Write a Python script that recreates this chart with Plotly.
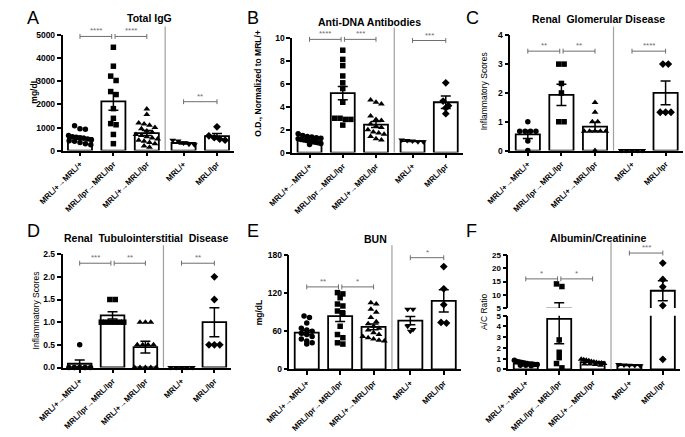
import numpy as np
import plotly.graph_objects as go

W, H = 685, 437

# ------------------------------------------------------------------ data
CATEGORIES = ["MRL/+→MRL/+", "MRL/lpr→MRL/lpr", "MRL/+→MRL/lpr", "MRL/+", "MRL/lpr"]

# A  Total IgG (mg/dL)
igg_points = [
    [1080, 950, 930, 650, 600, 580, 560, 540, 500, 470, 430, 400, 350, 300, 250],
    [4480, 3660, 3230, 3040, 2560, 2430, 1820, 1400, 1170, 1120, 700, 300],
    [1800, 1560, 1200, 1150, 1100, 1000, 950, 850, 800, 700, 650, 600, 550, 500, 450, 400, 350, 300, 200, 150],
    [450, 420, 330, 280, 250],
    [1030, 640, 560, 500, 450],
]
igg_mean = [550, 2130, 760, 330, 630]
igg_sem = [60, 380, 110, 40, 110]
igg_ticks = [0, 1000, 2000, 3000, 4000, 5000]
igg_sig = [(0, 1, 4950, "****"), (1, 2, 4950, "****"), (3, 4, 2120, "**")]

# B  Anti-DNA antibodies (O.D., normalized to MRL/+)
dna_points = [
    [1.65, 1.5, 1.4, 1.35, 1.3, 1.25, 1.2, 1.15, 1.1, 1.05, 1.0, 0.95, 0.9, 0.85, 0.8, 0.7],
    [8.95, 8.15, 7.6, 6.7, 6.1, 5.6, 4.4, 3.0, 3.0, 2.9, 2.9, 2.4],
    [4.6, 4.4, 4.25, 3.2, 2.9, 2.8, 2.5, 2.3, 2.2, 2.0, 1.8, 1.7, 1.6, 1.4, 1.2, 1.1],
    [1.1, 1.05, 1.0, 0.95, 0.95],
    [6.1, 4.5, 4.1, 3.9, 3.4],
]
dna_mean = [1.15, 5.2, 2.45, 1.0, 4.4]
dna_sem = [0.07, 0.58, 0.27, 0.03, 0.55]
dna_ticks = [0, 2, 4, 6, 8, 10]
dna_sig = [(0, 1, 9.9, "****"), (1, 2, 9.9, "***"), (3, 4, 9.8, "***")]

# C  Renal glomerular disease (inflammatory scores)
glom_points = [
    [1.0, 0.67, 0.67, 0.67, 0.67, 0.33, 0],
    [3, 3, 2.33, 2, 1, 1],
    [1.67, 1.33, 1.0, 1.0, 0.67, 0.67, 0.67, 0.67, 0.67, 0],
    [0, 0, 0, 0, 0],
    [3, 3, 1.33, 1.33, 1.33],
]
glom_mean = [0.56, 1.93, 0.83, 0, 2.0]
glom_sem = [0.14, 0.37, 0.15, 0, 0.41]
glom_ticks = [0, 1, 2, 3, 4]
glom_sig = [(0, 1, 3.45, "**"), (1, 2, 3.45, "**"), (3, 4, 3.45, "****")]

# D  Renal tubulointerstitial disease (inflammatory scores)
tub_points = [
    [0.5, 0, 0, 0, 0, 0],
    [1.5, 1.5, 1, 1, 1, 1, 1, 1],
    [1, 1, 1, 0.5, 0.5, 0.5, 0.5, 0, 0, 0, 0, 0],
    [0, 0, 0, 0, 0],
    [2, 1.5, 0.5, 0.5, 0.5],
]
tub_mean = [0.083, 1.15, 0.45, 0, 1.0]
tub_sem = [0.083, 0.08, 0.13, 0, 0.32]
tub_ticks = [0, 0.5, 1.0, 1.5, 2.0, 2.5]
tub_sig = [(0, 1, 2.3, "***"), (1, 2, 2.3, "**"), (3, 4, 2.3, "**")]

# E  BUN (mg/dL)
bun_points = [
    [84, 82, 73, 65, 62, 60, 57, 55, 52, 48, 45, 42, 40],
    [121, 119, 113, 103, 100, 92, 88, 68, 55, 50, 42, 40],
    [105, 103, 95, 90, 82, 75, 72, 68, 65, 62, 58, 55, 52, 50, 48, 46, 45],
    [95, 95, 68, 63, 60],
    [162, 127, 102, 74, 73],
]
bun_mean = [58, 84, 67, 77, 108]
bun_sem = [3.5, 8.5, 4.5, 6.5, 17.5]
bun_ticks = [0, 60, 120, 180]
bun_sig = [(0, 1, 130, "**"), (1, 2, 130, "*"), (3, 4, 176, "*")]

# F  Albumin/Creatinine (A/C ratio), broken axis 0-5 / 5-25
ac_points = [
    [0.85, 0.75, 0.7, 0.65, 0.6, 0.55, 0.5, 0.5, 0.45, 0.45, 0.4, 0.4, 0.35],
    [14.1, 13.1, 2.75, 1.6, 1.1, 0.55, 0.15],
    [0.95, 0.9, 0.85, 0.8, 0.75, 0.7, 0.65, 0.6, 0.6, 0.55, 0.5, 0.5, 0.45, 0.4],
    [0.45, 0.42, 0.4, 0.38, 0.35],
    [22.0, 15.8, 13.0, 5.9, 0.94],
]
ac_mean = [0.55, 4.7, 0.68, 0.4, 11.5]
ac_sem = [0.05, 2.3, 0.04, 0.03, 3.8]
ac_ticks_low = [0, 1, 2, 3, 4, 5]
ac_ticks_high = [5, 10, 15, 20, 25]
ac_sig = [(0, 1, 16, "*"), (1, 2, 16, "*"), (3, 4, 25.8, "***")]

# ------------------------------------------------------------------ style / layout constants
XPOS = [0, 1, 2, 3.1, 4.1]
SEP_X = 2.55
XRANGE = [-0.52, 4.62]
BAR_W = 0.72
SYMBOLS = ["circle", "square", "triangle-up", "triangle-down", "diamond"]
MSIZE = [5.5, 5.5, 6, 6, 6]
FONT = "Arial, 'Liberation Sans', Helvetica, sans-serif"
GREY = "#6e6e6e"
SEPC = "#a0a0a0"

fig = go.Figure()
layout_axes = {}
shapes = []
annotations = []


def aid(letter, n):
    return letter if n == 1 else f"{letter}{n}"


def xdom(x0, x1):
    return [x0 / W, x1 / W]


def ydom(yt, yb):
    return [1 - yb / H, 1 - yt / H]


def swarm(values, pxu_y, pxu_x, d=5.6, maxw=BAR_W * 0.95):
    """GraphPad-like row spread: points closer than d px in y share a row,
    rows are centred and squeezed to stay within the bar width."""
    values = np.asarray(values, dtype=float)
    order = np.argsort(values)[::-1]
    offs = np.zeros(len(values))
    rows, cur = [], []
    for k in order:
        py = values[k] * pxu_y
        if cur and (values[cur[0]] * pxu_y - py) >= d * 0.85:
            rows.append(cur)
            cur = []
        cur.append(k)
    if cur:
        rows.append(cur)
    for r in rows:
        n = len(r)
        step = d / pxu_x
        if n > 1:
            step = min(step, maxw / (n - 1))
        for m, k in enumerate(r):
            offs[k] = (m - (n - 1) / 2) * step
    return offs


def x_axis(box, yid):
    return dict(
        domain=xdom(box[0], box[1]), anchor=yid, range=XRANGE, autorange=False,
        tickmode="array", tickvals=XPOS, ticktext=CATEGORIES, tickangle=-45,
        ticks="outside", ticklen=4, tickwidth=1.5, tickcolor="black",
        showline=True, linecolor="black", linewidth=1.6, showgrid=False, zeroline=False,
        tickfont=dict(family=FONT, size=8, color="black", weight="bold"),
        fixedrange=True,
    )


def y_axis(xid, yt, yb, rng, ticks, fmt=None, fsize=8.5):
    ax = dict(
        domain=ydom(yt, yb), anchor=xid, range=list(rng), autorange=False,
        tickmode="array", tickvals=ticks,
        ticks="outside", ticklen=4, tickwidth=1.5, tickcolor="black",
        showline=True, linecolor="black", linewidth=1.6, showgrid=False, zeroline=False,
        tickfont=dict(family=FONT, size=fsize, color="black", weight="bold"),
        fixedrange=True,
    )
    if fmt:
        ax["tickformat"] = fmt
    return ax


def add_bracket(xid, yid, lo, hi, dom_px, i, j, val, label):
    yd = (val - lo) / (hi - lo)
    xa = XPOS[i] + (0.05 if i == 1 else 0)
    xb = XPOS[j] - (0.05 if j == 1 else 0)
    t = 2.5 / dom_px
    yref = yid + " domain"
    shapes.append(dict(type="line", xref=xid, yref=yref, x0=xa, x1=xb, y0=yd, y1=yd,
                       line=dict(color=GREY, width=1)))
    for xx in (xa, xb):
        shapes.append(dict(type="line", xref=xid, yref=yref, x0=xx, x1=xx, y0=yd - t, y1=yd + t,
                           line=dict(color=GREY, width=1)))
    annotations.append(dict(text=label, xref=xid, yref=yref, x=(xa + xb) / 2, y=yd,
                            yanchor="bottom", xanchor="center", showarrow=False, yshift=-1,
                            font=dict(family=FONT, size=8, color=GREY)))


def add_text(txt, px, py, size, bold=False, angle=0, xanchor="center", yanchor="middle", color="black"):
    annotations.append(dict(text=txt, xref="paper", yref="paper", x=px / W, y=1 - py / H,
                            xanchor=xanchor, yanchor=yanchor, showarrow=False, textangle=angle,
                            font=dict(family=FONT, size=size, color=color,
                                      weight="bold" if bold else "normal")))


def add_points(xid, yid, vals, offs, g):
    if len(vals) == 0:
        return
    fig.add_trace(go.Scatter(
        x=[XPOS[g] + o for o in offs], y=list(vals), mode="markers", xaxis=xid, yaxis=yid,
        marker=dict(symbol=SYMBOLS[g], size=MSIZE[g], color="black", line=dict(width=0)),
        cliponaxis=False, showlegend=False, hoverinfo="skip"))


def add_bars(xid, yid, mean, sem):
    fig.add_trace(go.Bar(
        x=XPOS, y=mean, width=BAR_W, offset=-BAR_W / 2, xaxis=xid, yaxis=yid,
        marker=dict(color="white", line=dict(color="black", width=1.8)),
        error_y=dict(type="data", array=sem, color="black", thickness=1.5, width=5),
        showlegend=False, hoverinfo="skip"))


# ------------------------------------------------------------------ standard panels
panels = [
    dict(n=1, box=(40, 218, 31, 149), rng=(0, 5000), ticks=igg_ticks, fmt=None,
         pts=igg_points, mean=igg_mean, sem=igg_sem, sig=igg_sig, sep_top=22,
         letter="A", lpos=(1, 1), title="Total IgG", tpos=(130, 13),
         ytitle="mg/dL", ypos=(10, 88), ybold=True),
    dict(n=2, box=(278, 455, 34, 151), rng=(0, 10), ticks=dna_ticks, fmt=None,
         pts=dna_points, mean=dna_mean, sem=dna_sem, sig=dna_sig, sep_top=23,
         letter="B", lpos=(229, 1), title="Anti-DNA Antibodies", tpos=(358, 17),
         ytitle="O.D., Normalized to MRL/+", ypos=(243, 80), ybold=True),
    dict(n=3, box=(504, 683, 31, 149), rng=(0, 4), ticks=glom_ticks, fmt=None,
         pts=glom_points, mean=glom_mean, sem=glom_sem, sig=glom_sig, sep_top=22,
         letter="C", lpos=(456, 1), title="Renal  Glomerular Disease", tpos=(595, 14),
         ytitle="Inflammatory Scores", ypos=(477, 88), ybold=False),
    dict(n=4, box=(40, 215, 255, 371), rng=(0, 2.5), ticks=tub_ticks, fmt=".1f",
         pts=tub_points, mean=tub_mean, sem=tub_sem, sig=tub_sig, sep_top=246,
         letter="D", lpos=(1, 219), title="Renal  Tubulointerstitial  Disease", tpos=(127, 238),
         ytitle="Inflammatory Scores", ypos=(12, 313), ybold=False),
    dict(n=5, box=(275, 453, 256, 373), rng=(0, 180), ticks=bun_ticks, fmt=None,
         pts=bun_points, mean=bun_mean, sem=bun_sem, sig=bun_sig, sep_top=246,
         letter="E", lpos=(229, 219), title="BUN", tpos=(364, 239),
         ytitle="mg/dL", ypos=(243, 314), ybold=True),
]

for p in panels:
    n = p["n"]
    xid, yid = aid("x", n), aid("y", n)
    x0, x1, yt, yb = p["box"]
    lo, hi = p["rng"]
    layout_axes["xaxis" if n == 1 else f"xaxis{n}"] = x_axis(p["box"], yid)
    layout_axes["yaxis" if n == 1 else f"yaxis{n}"] = y_axis(xid, yt, yb, p["rng"], p["ticks"], p["fmt"])
    add_bars(xid, yid, p["mean"], p["sem"])
    pxu_y = (yb - yt) / (hi - lo)
    pxu_x = (x1 - x0) / (XRANGE[1] - XRANGE[0])
    for g, vals in enumerate(p["pts"]):
        offs = swarm(vals, pxu_y, pxu_x)
        add_points(xid, yid, vals, offs, g)
    for (i, j, v, lab) in p["sig"]:
        add_bracket(xid, yid, lo, hi, yb - yt, i, j, v, lab)
    shapes.append(dict(type="line", xref=xid, yref="paper", x0=SEP_X, x1=SEP_X,
                       y0=1 - yb / H, y1=1 - p["sep_top"] / H, line=dict(color=SEPC, width=1.2)))
    add_text(p["letter"], p["lpos"][0], p["lpos"][1], 18, xanchor="left", yanchor="top")
    add_text(p["title"], p["tpos"][0], p["tpos"][1], 10.5, bold=True)
    add_text(p["ytitle"], p["ypos"][0], p["ypos"][1], 8.5, bold=p["ybold"], angle=-90)

# ------------------------------------------------------------------ panel F (broken y axis)
fx0, fx1 = 502, 680
lo_t, lo_b = 318, 373      # lower segment 0-5
hi_t, hi_b = 256, 310      # upper segment 5-25
layout_axes["xaxis6"] = x_axis((fx0, fx1), "y6")
layout_axes["yaxis6"] = y_axis("x6", lo_t, lo_b, (0, 5), ac_ticks_low, fsize=8)
layout_axes["yaxis7"] = y_axis("x6", hi_t, hi_b, (5, 25), ac_ticks_high, fsize=8)
add_bars("x6", "y6", ac_mean, ac_sem)
add_bars("x6", "y7", ac_mean, ac_sem)
pxu_x = (fx1 - fx0) / (XRANGE[1] - XRANGE[0])
for g, vals in enumerate(ac_points):
    v = np.array(vals, dtype=float)
    low = v[v <= 5]
    high = v[v > 5]
    add_points("x6", "y6", low, swarm(low, (lo_b - lo_t) / 5.0, pxu_x), g)
    add_points("x6", "y7", high, swarm(high, (hi_b - hi_t) / 20.0, pxu_x), g)
for (i, j, v, lab) in ac_sig:
    add_bracket("x6", "y7", 5, 25, hi_b - hi_t, i, j, v, lab)
shapes.append(dict(type="line", xref="x6", yref="paper", x0=SEP_X, x1=SEP_X,
                   y0=1 - lo_b / H, y1=1 - 241 / H, line=dict(color=SEPC, width=1.2)))
add_text("F", 456, 219, 18, xanchor="left", yanchor="top")
add_text("Albumin/Creatinine", 595, 238, 10.5, bold=True)
add_text("A/C Ratio", 477, 314, 8.5, angle=-90)

fig.update_layout(
    width=W, height=H, margin=dict(l=0, r=0, t=0, b=0),
    paper_bgcolor="white", plot_bgcolor="white",
    showlegend=False, barmode="overlay",
    shapes=shapes, annotations=annotations,
    font=dict(family=FONT, color="black"),
    **layout_axes,
)

fig.write_html("out.html", config=dict(displayModeBar=False),
               post_script="document.body.style.margin='0px';document.body.style.overflow='hidden';")
